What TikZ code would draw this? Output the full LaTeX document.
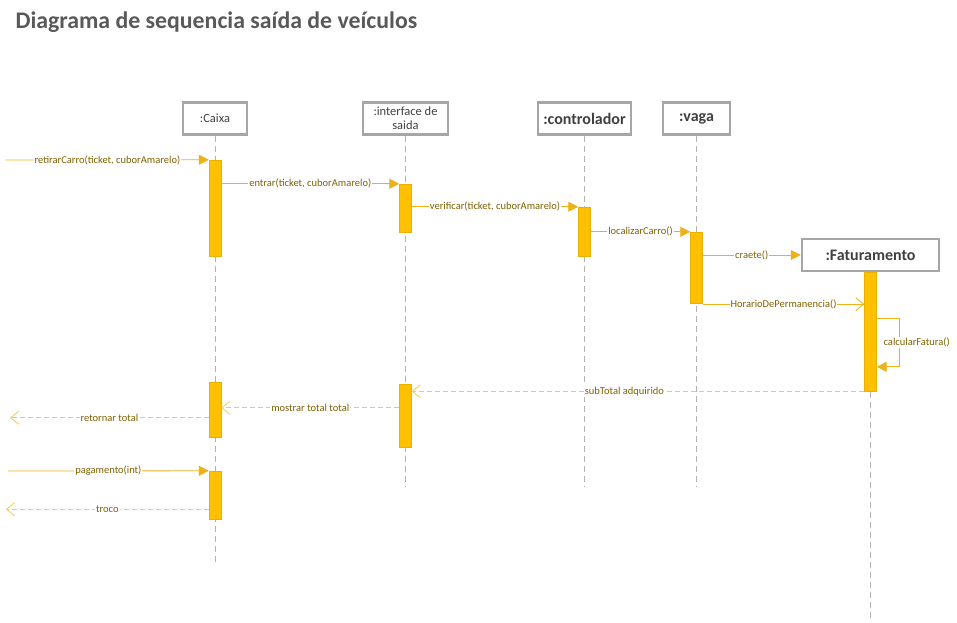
\documentclass[tikz,border=0pt]{standalone}
\usepackage{fontspec}
\setmainfont{Carlito}
\usetikzlibrary{arrows.meta}
\definecolor{linegold}{HTML}{EDB21A}
\definecolor{actgold}{HTML}{FFC000}
\definecolor{txtbrown}{HTML}{7F6000}
\definecolor{boxgray}{HTML}{A6A6A6}
\definecolor{titlegray}{HTML}{595959}

\begin{document}
\begin{tikzpicture}[x=1pt,y=-1pt]
				\tikzset{lifehead/.style={
						draw=boxgray,
						line width=2.5pt,
						fill=white,
						text=black!75,
						minimum height=32,
						inner sep=2pt,
						font=\fontsize{12.5}{14}\selectfont},
					bighead/.style={
						lifehead,
						font=\fontsize{16}{18}\selectfont\bfseries},
					lifeline/.style={draw=black!30, thick, dash pattern=on 6pt off 4pt},
					act/.style={fill=actgold, draw=actgold!92!black, thin, minimum width=12, inner sep=0pt},
					msg/.style={draw=linegold, thick, -{Triangle[length=10pt,width=10pt]}},
					msgopen/.style={draw=linegold, thick, -{Straight Barb[length=8pt,width=13pt]}},
					reply/.style={draw=linegold!70, thick, dash pattern=on 5pt off 3pt, -{Straight Barb[length=8pt,width=13pt]}},
					lbl/.style={fill=white, text=txtbrown, inner sep=1pt, font=\fontsize{10.5}{12}\selectfont}
				}
				\useasboundingbox (0,0) rectangle (957,622);
				
				%% TITLE
				\node[anchor=west, text=titlegray, font=\fontsize{23.8}{28}\selectfont\bfseries] (title) at (12,22) {Diagrama de sequencia saída de veículos};
				
				%% LIFELINES
				\node[lifehead, minimum width=64] (caixa) at (215,118.5) {:Caixa};
				\node[lifehead, minimum width=85, align=center] (interface) at (405.5,118.5) {:interface de\\saida};
				\node[bighead, minimum width=93] (controlador) at (584.5,118.5) {:controlador};
				\node[bighead, minimum width=67] (vaga) at (696.5,118.5) {:vaga};
				\node[bighead, minimum width=137] (fatura) at (870.5,255) {:Faturamento};
				
				\draw[lifeline] (caixa.south) -- ++(0,426);
				\draw[lifeline] (interface.south) -- ++(0,351);
				\draw[lifeline] (controlador.south) -- ++(0,351);
				\draw[lifeline] (vaga.south) -- ++(0,351);
				\draw[lifeline] (fatura.south) -- ++(0,349);
				
				%% ACTIVATIONS
				\node[act, minimum height=96] (caixaA1) at (215,208) {};
				\node[act, minimum height=55] (caixaA2) at (215,409.5) {};
				\node[act, minimum height=48] (caixaA3) at (215,495) {};
				\node[act, minimum height=48] (intA1) at (405.5,208) {};
				\node[act, minimum height=63] (intA2) at (405.5,415.5) {};
				\node[act, minimum height=49] (ctrlA) at (584.5,231.5) {};
				\node[act, minimum height=71] (vagaA) at (696.5,267.5) {};
				\node[act, minimum height=119] (fatA) at (870.5,331.5) {};
				
				%% FREE ENDS
				\coordinate (in1) at (6,160);
				\coordinate (in2) at (8,471);
				\coordinate (out1) at (10,418);
				\coordinate (out2) at (6,509);
				
				%% MESSAGES
				\draw[msg] (in1) -- (caixaA1.north west) node[midway, lbl] {retirarCarro(ticket, cuborAmarelo)};
				\draw[msg] (caixaA1.east |- intA1.north) -- (intA1.north west) node[midway, lbl] {entrar(ticket, cuborAmarelo)};
				\draw[msg] (intA1.east |- ctrlA.north) -- (ctrlA.north west) node[midway, lbl] {verificar(ticket, cuborAmarelo)};
				\draw[msg] (ctrlA.east |- vagaA.north) -- (vagaA.north west) node[midway, lbl] {localizarCarro()};
				\draw[msg] (vagaA.east |- fatura.west) -- (fatura.west) node[midway, lbl] {craete()};
				\draw[msgopen] ([yshift=-1]vagaA.south east) -- ([yshift=-1]vagaA.south east -| fatA.west) node[midway, lbl] {HorarioDePermanencia()};
				\draw[msg] ([yshift=-47]fatA.north east) -- ++(23,0) |- ([yshift=-95]fatA.north east) node[pos=0.25, lbl, xshift=17] {calcularFatura()};
				\draw[reply] (fatA.south west) -- (fatA.south west -| intA2.east) node[pos=0.53, lbl] {subTotal adquirido};
				\draw[reply] ([yshift=-24]intA2.north west) -- ([yshift=-24]intA2.north west -| caixaA2.east) node[midway, lbl] {mostrar total total};
				\draw[reply] ([yshift=-36]caixaA2.north west) -- ([yshift=-36]caixaA2.north west -| out1) node[midway, lbl] {retornar total};
				\draw[msg] (in2) -- (caixaA3.north west) node[midway, lbl] {pagamento(int)};
				\draw[reply] ([yshift=10]caixaA3.south west) -- ([yshift=10]caixaA3.south west -| out2) node[midway, lbl] {troco};
				
			\end{tikzpicture}
\end{document}
